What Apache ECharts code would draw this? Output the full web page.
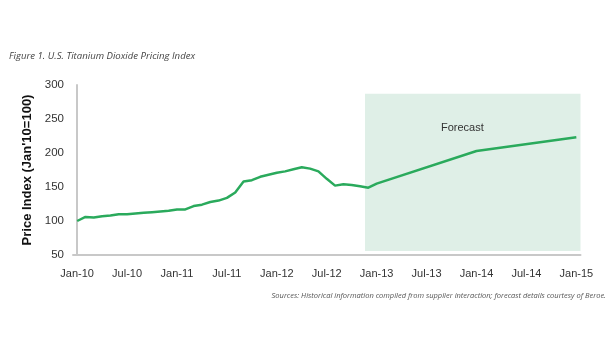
<!DOCTYPE html>
<html>
<head>
<meta charset="utf-8">
<script src="https://cdn.jsdelivr.net/npm/echarts@6/dist/echarts.min.js"></script>
<style>html,body{margin:0;padding:0;background:#fff}#c{width:615px;height:350px}</style>
</head>
<body>
<div id="c"></div>
<script>
var monthNames = ['Jan','Feb','Mar','Apr','May','Jun','Jul','Aug','Sep','Oct','Nov','Dec'];
var years = ['10','11','12','13','14','15'];
var categories = [];
years.forEach(function(y, i){
  monthNames.forEach(function(m){ if (i < 5 || m === 'Jan') categories.push(m + '-' + y); });
});
// Historical monthly values Jan-10 .. Dec-12
var historical = [100,106,105,107,108,110,110,111,112,113,114,115,
                  117,117,122,124,128,130,134,142,158,160,165,168,
                  171,173,176,179,177,173,162,152,154,153,151,149];
// Forecast anchor points
var forecastLabels = ['Jan-13','Jan-14','Jan-15'];
var forecastValues = [155,203,223];
var yTicks = [50,100,150,200,250,300];
var forecastRange = {xFrom: 34.6, xTo: 60.8, yFrom: 56, yTo: 287};

var seriesData = categories.map(function(c, i){
  if (i < historical.length) return historical[i];
  var k = forecastLabels.indexOf(c);
  return k >= 0 ? forecastValues[k] : null;
});

var chart = echarts.init(document.getElementById('c'));
chart.setOption({
  animation: false,
  backgroundColor: '#ffffff',
  textStyle: {fontFamily: 'Liberation Sans, Arial, sans-serif'},
  graphic: [
    {type: 'text', left: 9, top: 51, style: {text: 'Figure 1. U.S. Titanium Dioxide Pricing Index', font: 'italic 9.6px "Open Sans", sans-serif', fill: '#444'}},
    {type: 'text', right: 9, top: 292, style: {text: 'Sources: Historical information compiled from supplier interaction; forecast details courtesy of Beroe.', font: 'italic 7.5px "Open Sans", sans-serif', fill: '#555'}},
    {type: 'text', left: 441, top: 122, z: 10, style: {text: 'Forecast', font: '11px "Liberation Sans", Arial, sans-serif', fill: '#333'}}
  ],
  grid: {left: 73, right: 34.5, top: 85, bottom: 95},
  xAxis: [
    {type: 'category', data: categories, boundaryGap: true,
     axisLine: {lineStyle: {color: '#c8c8c8', width: 2}},
     axisTick: {show: false},
     axisLabel: {interval: 5, color: '#333', fontSize: 11, margin: 13},
     splitLine: {show: false}},
    {type: 'value', min: -0.5, max: 60.5, show: false}
  ],
  yAxis: [
    {type: 'value', min: 50, max: 300, interval: 50,
     name: "Price Index (Jan'10=100)", nameLocation: 'middle', nameGap: 32,
     nameTextStyle: {fontWeight: 'bold', fontSize: 13, color: '#111'},
     axisLine: {show: true, lineStyle: {color: '#c8c8c8', width: 2}},
     axisTick: {show: false},
     axisLabel: {color: '#333', fontSize: 11.5, margin: 9},
     splitLine: {show: false}}
  ],
  series: [
    {type: 'line', xAxisIndex: 1, yAxisIndex: 0, data: [], silent: true,
     markArea: {silent: true, itemStyle: {color: '#dfefe7'},
       data: [[{coord: [forecastRange.xFrom, forecastRange.yFrom]}, {coord: [forecastRange.xTo, forecastRange.yTo]}]]}},
    {type: 'line', xAxisIndex: 0, yAxisIndex: 0, data: seriesData, connectNulls: true,
     symbol: 'none', z: 5,
     lineStyle: {color: '#2aaa5c', width: 2.5}}
  ]
});
</script>
</body>
</html>
